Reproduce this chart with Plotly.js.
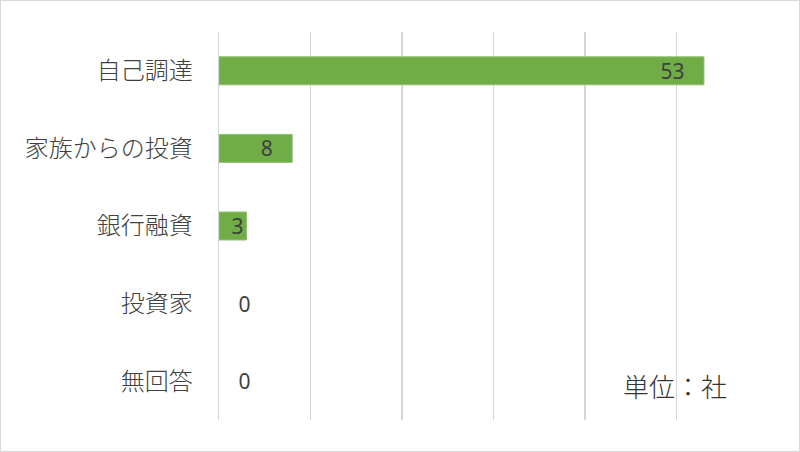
<!DOCTYPE html>
<html>
<head>
<meta charset="utf-8">
<script src="https://cdn.plot.ly/plotly-3.0.1.min.js"></script>
<style>
  html, body { margin: 0; padding: 0; background: #fff; }
  #chart { width: 800px; height: 452px; box-sizing: border-box; border: 1px solid #d9d9d9; }
</style>
</head>
<body>
<div id="chart"></div>
<script>
// 資金調達の方法（単位：社）
var categories = ["自己調達", "家族からの投資", "銀行融資", "投資家", "無回答"];
var values = [53, 8, 3, 0, 0];
var unitLabel = "単位：社";

// ラベルの位置：0 はバーの外、それ以外は内側の端
var sp = "\u00a0";
var positions = values.map((v) => (v > 0 ? "inside" : "outside"));
var labels = values.map((v) => {
  if (v == 0) return sp + sp + sp + v;
  if (v >= 5) return v + sp + sp + sp;
  return String(v);
});

var trace = {
  type: "bar",
  orientation: "h",
  x: values,
  y: categories,
  text: labels,
  textposition: positions,
  insidetextanchor: "end",
  textangle: 0,
  constraintext: "none",
  cliponaxis: false,
  textfont: { family: "Noto Sans, sans-serif", size: 21, color: "#404040" },
  marker: {
    color: "#70ad47",
    line: { color: "#8cc06a", width: values.map((v) => (v > 0 ? 1 : 0)) },
  },
  hoverinfo: "none",
};

var layout = {
  width: 798,
  height: 450,
  margin: { l: 218, r: 31, t: 31, b: 31 },
  paper_bgcolor: "#fff",
  plot_bgcolor: "#fff",
  showlegend: false,
  bargap: 0.64,
  xaxis: {
    range: [0, 60],
    dtick: 10,
    showgrid: true,
    gridcolor: "#d4d4d4",
    gridwidth: 1.5,
    zeroline: false,
    showline: false,
    showticklabels: false,
    ticks: "",
    fixedrange: true,
  },
  yaxis: {
    autorange: "reversed",
    showgrid: false,
    zeroline: false,
    showline: true,
    linecolor: "#d4d4d4",
    linewidth: 1.5,
    ticks: "",
    ticklabelstandoff: 20,
    tickfont: { family: "Noto Sans CJK JP, sans-serif", size: 24, weight: 300, color: "#404040" },
    fixedrange: true,
  },
  annotations: [
    {
      text: unitLabel,
      xref: "paper",
      yref: "paper",
      x: 0.83,
      y: 0.088,
      xanchor: "center",
      yanchor: "middle",
      showarrow: false,
      font: { family: "Noto Sans CJK JP, sans-serif", size: 26, weight: 300, color: "#333" },
    },
  ],
};

Plotly.newPlot("chart", [trace], layout, { displayModeBar: false, staticPlot: true });
</script>
</body>
</html>
